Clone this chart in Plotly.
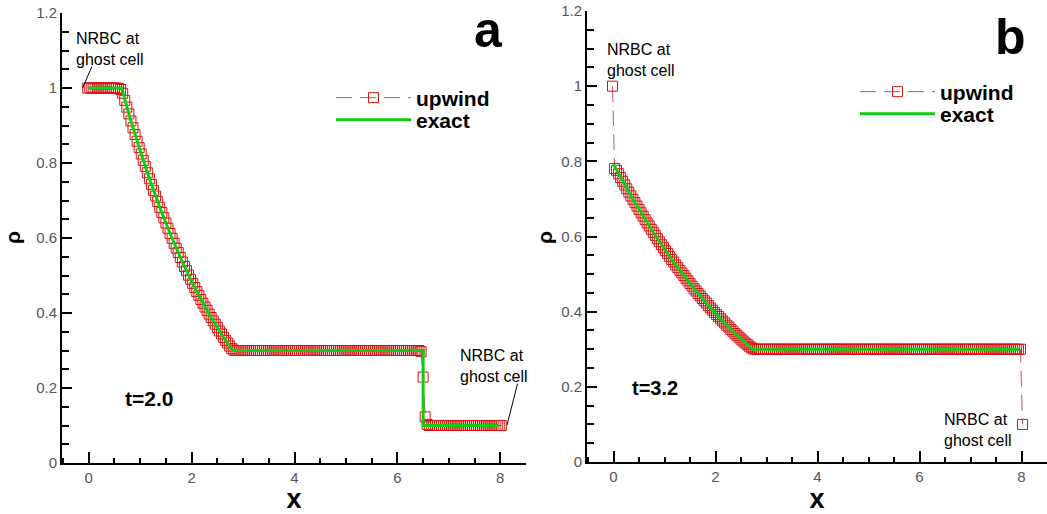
import plotly.graph_objects as go

# cell centres: ghost cell, 200 interior cells (dx = 0.04), ghost cell
x_cells = [-0.02,
           0.02, 0.06, 0.10, 0.14, 0.18, 0.22, 0.26, 0.30, 0.34, 0.38,
           0.42, 0.46, 0.50, 0.54, 0.58, 0.62, 0.66, 0.70, 0.74, 0.78,
           0.82, 0.86, 0.90, 0.94, 0.98, 1.02, 1.06, 1.10, 1.14, 1.18,
           1.22, 1.26, 1.30, 1.34, 1.38, 1.42, 1.46, 1.50, 1.54, 1.58,
           1.62, 1.66, 1.70, 1.74, 1.78, 1.82, 1.86, 1.90, 1.94, 1.98,
           2.02, 2.06, 2.10, 2.14, 2.18, 2.22, 2.26, 2.30, 2.34, 2.38,
           2.42, 2.46, 2.50, 2.54, 2.58, 2.62, 2.66, 2.70, 2.74, 2.78,
           2.82, 2.86, 2.90, 2.94, 2.98, 3.02, 3.06, 3.10, 3.14, 3.18,
           3.22, 3.26, 3.30, 3.34, 3.38, 3.42, 3.46, 3.50, 3.54, 3.58,
           3.62, 3.66, 3.70, 3.74, 3.78, 3.82, 3.86, 3.90, 3.94, 3.98,
           4.02, 4.06, 4.10, 4.14, 4.18, 4.22, 4.26, 4.30, 4.34, 4.38,
           4.42, 4.46, 4.50, 4.54, 4.58, 4.62, 4.66, 4.70, 4.74, 4.78,
           4.82, 4.86, 4.90, 4.94, 4.98, 5.02, 5.06, 5.10, 5.14, 5.18,
           5.22, 5.26, 5.30, 5.34, 5.38, 5.42, 5.46, 5.50, 5.54, 5.58,
           5.62, 5.66, 5.70, 5.74, 5.78, 5.82, 5.86, 5.90, 5.94, 5.98,
           6.02, 6.06, 6.10, 6.14, 6.18, 6.22, 6.26, 6.30, 6.34, 6.38,
           6.42, 6.46, 6.50, 6.54, 6.58, 6.62, 6.66, 6.70, 6.74, 6.78,
           6.82, 6.86, 6.90, 6.94, 6.98, 7.02, 7.06, 7.10, 7.14, 7.18,
           7.22, 7.26, 7.30, 7.34, 7.38, 7.42, 7.46, 7.50, 7.54, 7.58,
           7.62, 7.66, 7.70, 7.74, 7.78, 7.82, 7.86, 7.90, 7.94, 7.98,
           8.02]

# panel a, t = 2.0, upwind scheme (same layout as x_cells)
rho_upwind_a = [1.0,
                1.0, 1.0, 1.0, 1.0, 1.0, 1.0, 1.0, 1.0, 1.0, 1.0,
                1.0, 1.0, 1.0, 1.0, 0.999, 0.996, 0.986, 0.967, 0.949, 0.931,
                0.912, 0.894, 0.876, 0.858, 0.841, 0.824, 0.807, 0.791, 0.774, 0.758,
                0.743, 0.727, 0.712, 0.697, 0.682, 0.668, 0.654, 0.640, 0.626, 0.612,
                0.599, 0.586, 0.573, 0.561, 0.548, 0.536, 0.524, 0.513, 0.501, 0.490,
                0.479, 0.468, 0.457, 0.447, 0.436, 0.426, 0.416, 0.407, 0.397, 0.388,
                0.379, 0.370, 0.361, 0.352, 0.344, 0.335, 0.327, 0.320, 0.312, 0.305,
                0.301, 0.300, 0.300, 0.300, 0.300, 0.300, 0.300, 0.300, 0.300, 0.300,
                0.300, 0.300, 0.300, 0.300, 0.300, 0.300, 0.300, 0.300, 0.300, 0.300,
                0.300, 0.300, 0.300, 0.300, 0.300, 0.300, 0.300, 0.300, 0.300, 0.300,
                0.300, 0.300, 0.300, 0.300, 0.300, 0.300, 0.300, 0.300, 0.300, 0.300,
                0.300, 0.300, 0.300, 0.300, 0.300, 0.300, 0.300, 0.300, 0.300, 0.300,
                0.300, 0.300, 0.300, 0.300, 0.300, 0.300, 0.300, 0.300, 0.300, 0.300,
                0.300, 0.300, 0.300, 0.300, 0.300, 0.300, 0.300, 0.300, 0.300, 0.300,
                0.300, 0.300, 0.300, 0.300, 0.300, 0.300, 0.300, 0.300, 0.300, 0.300,
                0.300, 0.300, 0.300, 0.300, 0.300, 0.300, 0.300, 0.300, 0.300, 0.300,
                0.300, 0.297, 0.229, 0.123, 0.103, 0.100, 0.100, 0.100, 0.100, 0.100,
                0.100, 0.100, 0.100, 0.100, 0.100, 0.100, 0.100, 0.100, 0.100, 0.100,
                0.100, 0.100, 0.100, 0.100, 0.100, 0.100, 0.100, 0.100, 0.100, 0.100,
                0.100, 0.100, 0.100, 0.100, 0.100, 0.100, 0.100, 0.100, 0.100, 0.100,
                0.100]

# panel b, t = 3.2, upwind scheme (same layout as x_cells)
rho_upwind_b = [1.0,
                0.781, 0.776, 0.767, 0.757, 0.747, 0.737, 0.727, 0.718, 0.708, 0.699,
                0.690, 0.681, 0.672, 0.663, 0.654, 0.645, 0.636, 0.628, 0.619, 0.611,
                0.603, 0.594, 0.586, 0.578, 0.570, 0.562, 0.555, 0.547, 0.539, 0.532,
                0.524, 0.517, 0.510, 0.503, 0.496, 0.489, 0.482, 0.475, 0.468, 0.461,
                0.455, 0.448, 0.442, 0.435, 0.429, 0.423, 0.416, 0.410, 0.404, 0.398,
                0.392, 0.387, 0.381, 0.375, 0.370, 0.364, 0.359, 0.353, 0.348, 0.342,
                0.337, 0.332, 0.327, 0.322, 0.317, 0.313, 0.308, 0.304, 0.301, 0.300,
                0.300, 0.300, 0.300, 0.300, 0.300, 0.300, 0.300, 0.300, 0.300, 0.300,
                0.300, 0.300, 0.300, 0.300, 0.300, 0.300, 0.300, 0.300, 0.300, 0.300,
                0.300, 0.300, 0.300, 0.300, 0.300, 0.300, 0.300, 0.300, 0.300, 0.300,
                0.300, 0.300, 0.300, 0.300, 0.300, 0.300, 0.300, 0.300, 0.300, 0.300,
                0.300, 0.300, 0.300, 0.300, 0.300, 0.300, 0.300, 0.300, 0.300, 0.300,
                0.300, 0.300, 0.300, 0.300, 0.300, 0.300, 0.300, 0.300, 0.300, 0.300,
                0.300, 0.300, 0.300, 0.300, 0.300, 0.300, 0.300, 0.300, 0.300, 0.300,
                0.300, 0.300, 0.300, 0.300, 0.300, 0.300, 0.300, 0.300, 0.300, 0.300,
                0.300, 0.300, 0.300, 0.300, 0.300, 0.300, 0.300, 0.300, 0.300, 0.300,
                0.300, 0.300, 0.300, 0.300, 0.300, 0.300, 0.300, 0.300, 0.300, 0.300,
                0.300, 0.300, 0.300, 0.300, 0.300, 0.300, 0.300, 0.300, 0.300, 0.300,
                0.300, 0.300, 0.300, 0.300, 0.300, 0.300, 0.300, 0.300, 0.300, 0.300,
                0.300, 0.300, 0.300, 0.300, 0.300, 0.300, 0.300, 0.300, 0.300, 0.300,
                0.100]

# exact solutions
exact_a_x = [0.0, 0.64, 0.8, 1.0, 1.2, 1.4, 1.6, 1.8, 2.0, 2.2, 2.4, 2.6, 2.8, 6.5, 6.5, 7.96]
exact_a_rho = [1.0, 1.0, 0.9216, 0.8325, 0.7504, 0.675, 0.6057, 0.5423, 0.4843, 0.4313, 0.383, 0.3393, 0.3, 0.3, 0.1, 0.1]
exact_b_x = [0.0, 0.4, 0.8, 1.2, 1.6, 2.0, 2.4, 2.72, 7.96]
exact_b_rho = [0.7919, 0.6944, 0.6066, 0.5281, 0.4579, 0.3953, 0.3398, 0.3, 0.3]

assert len(x_cells) == len(rho_upwind_a) == len(rho_upwind_b) == 202

W, H = 1047, 514
FONT = "Liberation Sans"
RED = "#d41414"
DASHRED = "#c85060"
GREEN = "#11cc11"


def px(xp):
    return xp / W


def py(yp):
    return 1 - yp / H


fig = go.Figure()

panels = [("x", "y", rho_upwind_a, exact_a_x, exact_a_rho, "legend", "legend2"),
          ("x2", "y2", rho_upwind_b, exact_b_x, exact_b_rho, "legend3", "legend4")]
for xa, ya, rho_u, ex_x, ex_r, leg_u, leg_e in panels:
    fig.add_trace(go.Scatter(
        x=x_cells, y=rho_u, xaxis=xa, yaxis=ya, mode="lines+markers", name="upwind",
        legend=leg_u,
        line=dict(color=DASHRED, width=1, dash="16px,8px"),
        marker=dict(symbol="square-open", size=10, color=RED, line=dict(width=1, color=RED)),
    ))
    fig.add_trace(go.Scatter(
        x=ex_x, y=ex_r, xaxis=xa, yaxis=ya, mode="lines", name="exact", legend=leg_e,
        line=dict(color=GREEN, width=3),
    ))

tickfont = dict(family=FONT, size=15, color="#555555")
common_x = dict(range=[-0.52, 8.5], showline=True, linecolor="black", linewidth=2,
                ticks="inside", ticklen=11, tickwidth=2, tickcolor="black", automargin=False,
                tick0=0, dtick=2, showgrid=False, zeroline=False, tickfont=tickfont,
                minor=dict(ticks="inside", ticklen=5, tickwidth=1.5, tickcolor="black", dtick=0.5, showgrid=False),
                title=dict(text="<b>x</b>", font=dict(family=FONT, size=27, color="black"), standoff=2))
common_y = dict(range=[0, 1.2], showline=True, linecolor="black", linewidth=2,
                ticks="inside", ticklen=10, tickwidth=2, tickcolor="black", automargin=False,
                tick0=0, dtick=0.2, showgrid=False, zeroline=False, tickfont=tickfont,
                minor=dict(ticks="inside", ticklen=7, tickwidth=1.5, tickcolor="black", dtick=0.05, showgrid=False))

legfont = dict(family=FONT, size=21, color="black", weight="bold")


def legend_at(xp, yp):
    return dict(x=px(xp), y=py(yp), xanchor="left", yanchor="middle", bgcolor="rgba(0,0,0,0)",
                font=legfont, itemwidth=75, borderwidth=0)


fig.update_layout(
    width=W, height=H, margin=dict(l=0, r=0, t=0, b=0, autoexpand=False),
    paper_bgcolor="white", plot_bgcolor="white",
    xaxis=dict(domain=[px(62), px(526)], anchor="y", **common_x),
    yaxis=dict(domain=[py(463), py(13)], anchor="x", **common_y),
    xaxis2=dict(domain=[px(587), px(1047)], anchor="y2", **common_x),
    yaxis2=dict(domain=[py(462), py(11)], anchor="x2", **common_y),
    legend=legend_at(331, 98),
    legend2=legend_at(331, 120),
    legend3=legend_at(855, 92),
    legend4=legend_at(855, 114),
    showlegend=True,
)

ann = []


def label(xp, yp, text, size, **kw):
    d = dict(xref="paper", yref="paper", x=px(xp), y=py(yp), text=text, showarrow=False,
             xanchor="center", yanchor="middle", font=dict(family=FONT, size=size, color="black"))
    d.update(kw)
    ann.append(d)


# y-axis titles
label(12, 238, "<b>ρ</b>", 21, textangle=-90)
label(544, 238, "<b>ρ</b>", 21, textangle=-90)
# panel letters
label(488, 30, "<b>a</b>", 50)
label(1010, 37, "<b>b</b>", 50)
# time labels
label(149, 398, "<b>t=2.0</b>", 21)
label(655, 388, "<b>t=3.2</b>", 20)
# boundary-condition notes
for (lx, ymid) in [(74, 49), (458, 366), (605, 60), (942, 430)]:
    label(lx, ymid, "NRBC at<br>ghost cell", 16, xanchor="left", align="left")

# leader lines to the ghost cells (panel a)
ann.append(dict(xref="x", yref="y", x=-0.12, y=1.0, ax=10, ay=-23, text="", showarrow=True,
                arrowhead=0, arrowwidth=1, arrowcolor="black", standoff=0, startstandoff=0))
ann.append(dict(xref="x", yref="y", x=8.13, y=0.101, ax=11, ay=-43, text="", showarrow=True,
                arrowhead=0, arrowwidth=1, arrowcolor="black", standoff=0, startstandoff=0))
fig.update_layout(annotations=ann)

fig.write_html("out.html", config={"displayModeBar": False},
               post_script="document.body.style.margin='0px';")
